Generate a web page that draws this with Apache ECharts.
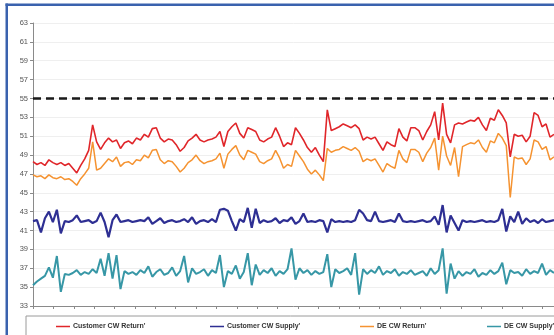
<!DOCTYPE html>
<html><head><meta charset="utf-8">
<script src="https://cdn.jsdelivr.net/npm/echarts@6/dist/echarts.min.js"></script>
<style>html,body{margin:0;padding:0;background:#fff}#c{width:554px;height:335px}</style>
</head><body><div id="c"></div>
<script>
const seriesNames = ["Customer CW Return'", "Customer CW Supply'", "DE CW Return'", "DE CW Supply'"];

const customerReturn = [
48.3,48.0,48.2,47.9,48.5,48.2,48.0,48.2,47.9,48.1,
47.6,47.1,47.9,48.6,49.5,52.2,50.4,49.6,50.3,50.8,
50.4,50.6,49.7,50.3,50.5,50.2,50.8,50.6,51.2,50.9,
51.8,51.9,50.8,50.4,50.7,50.6,50.1,49.4,49.8,50.5,
50.8,51.2,50.6,50.4,50.6,50.7,50.9,51.5,49.9,51.5,
52.0,52.4,51.3,50.8,51.9,51.7,51.5,50.6,50.4,50.7,
50.9,51.9,51.0,49.9,50.3,50.1,51.9,51.3,50.6,49.8,
49.3,49.8,49.0,48.3,53.8,51.6,51.8,52.0,52.3,52.1,
51.9,52.2,51.8,50.6,50.9,50.7,50.9,50.2,49.5,50.4,
50.1,49.9,51.8,50.9,50.5,51.9,51.9,51.6,50.6,51.5,
52.2,53.6,50.6,54.5,51.2,50.3,52.2,52.4,52.3,52.5,
52.7,52.6,53.0,52.2,51.6,52.9,52.7,53.8,53.2,52.4,
48.8,51.2,51.0,51.1,50.4,51.0,53.5,53.2,52.0,52.3,
50.9,51.2];

const customerSupply = [
42.0,42.1,40.8,42.3,43.0,41.9,43.2,40.7,42.0,41.9,
42.1,42.6,41.9,42.0,42.1,41.8,42.0,42.9,41.9,40.3,
42.1,42.7,41.9,42.0,42.1,41.9,42.0,42.1,42.0,42.4,
41.7,42.0,42.3,41.8,42.0,42.1,41.9,42.0,42.2,41.9,
42.4,41.7,42.0,42.1,41.9,42.2,41.9,43.2,43.3,43.1,
42.0,41.0,42.2,41.9,43.4,41.3,43.3,41.8,42.1,41.9,
42.0,42.3,41.8,42.1,42.0,42.4,41.7,42.0,42.8,41.9,
42.0,41.9,42.1,42.0,40.8,42.2,41.9,42.0,41.9,42.0,
41.9,42.1,43.2,42.8,42.1,42.0,43.0,42.0,41.9,42.0,
42.1,41.9,42.8,42.0,41.9,42.0,41.9,42.0,42.1,41.9,
42.0,42.5,41.6,43.7,40.8,42.6,41.8,41.0,42.1,41.9,
42.0,41.9,42.0,42.1,41.9,42.0,41.9,42.1,43.3,40.9,
42.5,41.9,43.0,41.7,42.3,41.9,42.1,41.8,42.2,41.9,
42.0,42.1];

const deReturn = [
46.9,46.7,46.8,46.5,46.9,46.6,46.5,46.7,46.4,46.5,
46.2,45.8,46.5,47.0,47.6,50.4,47.4,47.6,48.1,48.6,
48.3,48.8,47.8,48.2,48.3,48.0,48.5,48.4,49.0,48.7,
49.5,49.6,48.5,48.1,48.4,48.3,47.8,47.2,47.6,48.2,
48.5,49.0,48.4,48.1,48.3,48.4,48.6,49.2,47.6,49.1,
49.6,50.0,49.0,48.5,49.5,49.3,49.1,48.3,48.1,48.4,
48.6,49.5,48.7,47.6,48.0,47.8,49.5,48.9,48.3,47.5,
47.0,47.4,46.9,46.3,49.7,49.3,49.5,49.6,49.9,49.7,
49.5,49.8,49.4,48.3,48.6,48.4,48.6,47.9,47.2,48.1,
47.8,47.6,49.5,48.6,48.2,49.6,49.6,49.3,48.3,49.2,
49.8,50.8,47.4,51.0,48.9,47.9,49.8,46.7,49.9,50.1,
50.3,50.2,50.6,49.8,49.3,50.5,50.3,51.3,50.8,50.0,
44.5,48.8,48.6,48.7,48.0,48.6,50.6,50.4,49.6,49.9,
48.5,48.8];

const deSupply = [
35.2,35.6,35.9,36.2,37.1,36.0,38.3,34.5,36.4,36.3,
36.5,36.8,36.3,36.6,36.4,36.9,36.5,38.0,36.2,38.6,
35.9,38.4,34.8,36.7,36.4,36.6,36.3,36.8,36.5,37.2,
36.1,36.6,36.9,36.3,36.5,37.1,36.2,36.7,38.3,35.5,
37.0,36.4,36.6,36.9,36.2,36.8,36.5,38.4,35.0,36.7,
36.4,37.3,35.9,36.6,38.6,35.2,37.4,36.3,36.8,36.5,
37.0,36.2,36.7,36.4,36.9,39.1,35.8,37.0,36.5,36.8,
36.3,36.7,36.4,36.6,38.5,35.0,36.9,36.5,36.7,37.0,
36.3,38.6,34.2,36.9,36.4,36.8,36.5,37.2,36.3,36.7,
36.5,36.9,36.2,36.6,36.4,36.8,36.3,36.5,36.7,36.2,
37.0,36.4,36.8,39.1,34.3,37.5,35.9,36.7,36.2,36.6,
36.4,36.9,36.1,36.5,36.3,36.8,36.4,36.7,37.6,35.3,
36.8,36.5,36.6,36.2,36.9,36.4,36.7,36.5,37.5,36.3,
36.8,36.5];

const limitValue = 55;
const yMin = 33, yMax = 63, yStep = 2;
const categories = customerReturn.map((_, i) => String(i + 1));

const colors = ['#e0262a', '#2e2f93', '#f59331', '#3797a6'];
const widths = [1.6, 2.2, 1.5, 2];
const dataSets = [customerReturn, customerSupply, deReturn, deSupply];
const legendLefts = [56, 210, 360, 487];

const chart = echarts.init(document.getElementById('c'), null, {renderer: 'canvas'});
const series = dataSets.map((d, k) => ({
  name: seriesNames[k], type: 'line', data: d, xAxisIndex: 0, yAxisIndex: 0,
  symbol: 'none', lineStyle: {color: colors[k], width: widths[k]}, itemStyle: {color: colors[k]},
  z: 3 + (k === 1 || k === 3 ? 0 : 1),
  markLine: k === 0 ? {
    silent: true, symbol: 'none', label: {show: false},
    lineStyle: {color: '#1a1a1a', width: 2.5, type: [8, 5]},
    data: [{yAxis: limitValue}]
  } : undefined
}));

chart.setOption({
  animation: false,
  backgroundColor: '#fff',
  grid: {left: 33, right: -3, top: 23, bottom: 29, containLabel: false},
  xAxis: [
    {type: 'category', data: categories, boundaryGap: false, axisLine: {show: false},
     axisTick: {show: false}, axisLabel: {show: false}, splitLine: {show: false}},
    {type: 'value', min: 0, max: 25.56, interval: 1, position: 'bottom',
     axisLine: {show: true, onZero: false, lineStyle: {color: '#8a8a8a', width: 1}},
     axisTick: {show: true, length: 3, lineStyle: {color: '#8a8a8a'}},
     axisLabel: {show: false}, splitLine: {show: false}}
  ],
  yAxis: {type: 'value', min: yMin, max: yMax, interval: yStep,
    axisLine: {show: true, lineStyle: {color: '#8a8a8a'}},
    axisTick: {show: true, length: 3, lineStyle: {color: '#8a8a8a'}},
    axisLabel: {fontSize: 7.5, color: '#555', margin: 5, fontFamily: 'Liberation Sans'},
    splitLine: {show: true, lineStyle: {color: '#efefef', width: 1}}},
  legend: seriesNames.map((n, k) => ({
    data: [n], left: legendLefts[k], top: 323, icon: 'rect', itemWidth: 14, itemHeight: 1.5,
    itemGap: 2, padding: 0,
    textStyle: {fontSize: 7, fontWeight: 'bold', color: '#333', fontFamily: 'Liberation Sans', padding: [0, 0, 0, -2]}
  })),
  graphic: [
    {type: 'rect', shape: {x: 26, y: 316, width: 560, height: 40}, style: {fill: 'none', stroke: '#9a9a9a', lineWidth: 1}, z: 1},
    {type: 'rect', shape: {x: 5.5, y: 3.5, width: 2.5, height: 335}, style: {fill: '#3a62ae'}, z: 10},
    {type: 'rect', shape: {x: 5.5, y: 3.5, width: 560, height: 2.5}, style: {fill: '#3a62ae'}, z: 10}
  ],
  series: series
});
</script></body></html>
